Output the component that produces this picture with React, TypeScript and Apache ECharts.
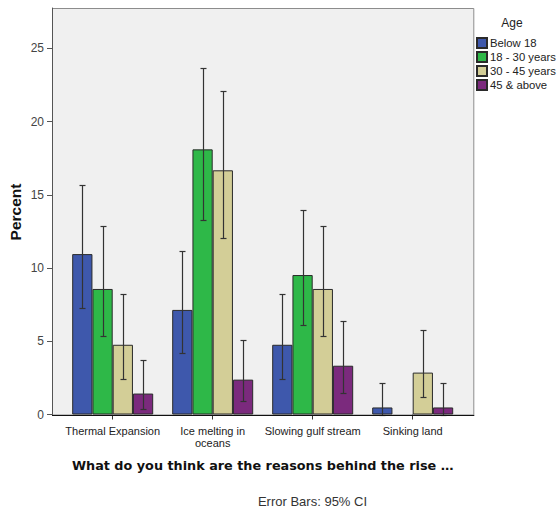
import React, { useEffect, useRef } from "react";
import * as echarts from "echarts";

// Reasons given for the rise, by respondent age group (percent of all respondents)
const categories = ["Thermal Expansion", "Ice melting in\noceans", "Slowing gulf stream", "Sinking land"];
const ageGroups = ["Below 18", "18 - 30 years", "30 - 45 years", "45 & above"];

const below18 = [10.95, 7.14, 4.76, 0.48];
const below18Lo = [7.24, 4.22, 2.45, 0];
const below18Hi = [15.67, 11.19, 8.24, 2.18];

const age18to30 = [8.57, 18.1, 9.52, 0];
const age18to30Lo = [5.33, 13.3, 6.08, null];
const age18to30Hi = [12.87, 23.64, 13.99, null];

const age30to45 = [4.76, 16.67, 8.57, 2.86];
const age30to45Lo = [2.45, 12.06, 5.33, 1.18];
const age30to45Hi = [8.24, 22.1, 12.87, 5.77];

const age45up = [1.43, 2.38, 3.33, 0.48];
const age45upLo = [0.39, 0.91, 1.5, 0];
const age45upHi = [3.75, 5.11, 6.4, 2.18];

const yTicks = { min: 0, max: 27.75, interval: 5 };

const colors = ["#3e58ac", "#2eb848", "#d3ce97", "#7b2a7d"];

const values = [below18, age18to30, age30to45, age45up];
const lows = [below18Lo, age18to30Lo, age30to45Lo, age45upLo];
const highs = [below18Hi, age18to30Hi, age30to45Hi, age45upHi];

const GAP = 0.19;

function errorSeries(k: number) {
  const data = categories
    .map((_, i) => [i, lows[k][i], highs[k][i]])
    .filter((d) => d[1] !== null && d[2] !== null);
  return {
    type: "custom",
    name: ageGroups[k] + " CI",
    z: 5,
    silent: true,
    data,
    encode: { x: 0, y: [1, 2] },
    renderItem: (params: any, api: any) => {
      const cat = api.value(0);
      const lo = api.value(1);
      const hi = api.value(2);
      const band = api.size([1, 0])[0];
      const barW = (band * (1 - GAP)) / 4;
      const x = Math.round(api.coord([cat, 0])[0] + (k - 1.5) * barW) + 0.5;
      const yHi = Math.round(api.coord([cat, hi])[1]) + 0.5;
      const yLo = Math.round(api.coord([cat, lo])[1]) + 0.5;
      const cap = 3;
      const style = { stroke: "#333", lineWidth: 1.2 };
      return {
        type: "group",
        children: [
          { type: "line", shape: { x1: x, y1: yHi, x2: x, y2: yLo }, style },
          { type: "line", shape: { x1: x - cap, y1: yHi, x2: x + cap, y2: yHi }, style },
          { type: "line", shape: { x1: x - cap, y1: yLo, x2: x + cap, y2: yLo }, style },
        ],
      };
    },
  };
}

export default function App() {
  const ref = useRef<HTMLDivElement>(null);

  useEffect(() => {
    if (!ref.current) return;
    const chart = echarts.init(ref.current, null, { renderer: "svg" });

    const gridLeft = 62.7;
    const gridRight = 94.3;
    const gridTop = 8;
    const gridBottom = 96.5;
    const frameLeft = 52;
    const frameRight = 473.3;
    const axisY = 511 - gridBottom;

    chart.setOption({
      animation: false,
      backgroundColor: "#ffffff",
      textStyle: { fontFamily: "Liberation Sans, Arial, sans-serif" },
      grid: {
        left: gridLeft,
        right: gridRight,
        top: gridTop,
        bottom: gridBottom,
        outerBoundsMode: "none",
        containLabel: false,
      },
      legend: {
        orient: "vertical",
        left: 476,
        top: 37,
        padding: 0,
        itemWidth: 10,
        itemHeight: 10,
        itemGap: 2,
        icon: "rect",
        data: ageGroups,
        selectedMode: false,
        textStyle: { fontSize: 11.3, color: "#222", padding: [0, 0, 0, -2] },
      },
      graphic: [
        {
          type: "rect",
          z: -10,
          silent: true,
          shape: { x: frameLeft + 0.5, y: gridTop + 0.5, width: frameRight - frameLeft, height: axisY - gridTop },
          style: { fill: "#f0f0f0", stroke: "#8c8c8c", lineWidth: 1 },
        },
        {
          type: "line",
          z: 10,
          silent: true,
          shape: { x1: frameLeft, y1: Math.round(axisY) + 0.5, x2: frameRight + 1, y2: Math.round(axisY) + 0.5 },
          style: { stroke: "#111", lineWidth: 1 },
        },
        {
          type: "text",
          x: 15,
          y: 212,
          rotation: Math.PI / 2,
          style: {
            text: "Percent",
            fontSize: 15.5,
            fontWeight: "bold",
            fill: "#111",
            align: "center",
            verticalAlign: "middle",
            fontFamily: "Liberation Sans, Arial, sans-serif",
          },
        },
        {
          type: "text",
          x: 512,
          y: 23,
          style: {
            text: "Age",
            fontSize: 12,
            fill: "#222",
            align: "center",
            verticalAlign: "middle",
            fontFamily: "Liberation Sans, Arial, sans-serif",
          },
        },
        {
          type: "text",
          x: 312.5,
          y: 501.5,
          style: {
            text: "Error Bars: 95% CI",
            fontSize: 13,
            fill: "#333",
            align: "center",
            verticalAlign: "middle",
            fontFamily: "Liberation Sans, Arial, sans-serif",
          },
        },
      ],
      xAxis: {
        type: "category",
        data: categories,
        axisLine: { show: false },
        axisTick: { show: true, alignWithLabel: true, length: 5, lineStyle: { color: "#333" } },
        axisLabel: { fontSize: 11, color: "#222", margin: 10, lineHeight: 12, interval: 0 },
        name: "What do you think are the reasons behind the rise …",
        nameLocation: "middle",
        nameGap: 44,
        nameTextStyle: { fontSize: 12.8, fontWeight: "bold", color: "#111", fontFamily: "DejaVu Sans, Verdana, sans-serif" },
      },
      yAxis: {
        type: "value",
        min: yTicks.min,
        max: yTicks.max,
        interval: yTicks.interval,
        offset: gridLeft - frameLeft,
        splitLine: { show: false },
        axisLine: { show: true, lineStyle: { color: "#555" } },
        axisTick: { show: true, length: 5, lineStyle: { color: "#555" } },
        axisLabel: { fontSize: 12, color: "#444", margin: 8, showMaxLabel: false },
      },
      series: [
        ...ageGroups.map((g, k) => ({
          type: "bar",
          name: g,
          data: values[k].map((v) => (v === 0 ? { value: v, itemStyle: { borderWidth: 0 } } : v)),
          barGap: "0%",
          barCategoryGap: (GAP * 100).toFixed(0) + "%",
          itemStyle: { color: colors[k], borderColor: "#2a2a2a", borderWidth: 1 },
          emphasis: { disabled: true },
        })),
        ...ageGroups.map((_, k) => errorSeries(k)),
      ],
    });

    return () => chart.dispose();
  }, []);

  return <div ref={ref} style={{ position: "fixed", left: 0, top: 0, width: 557, height: 511 }} />;
}
